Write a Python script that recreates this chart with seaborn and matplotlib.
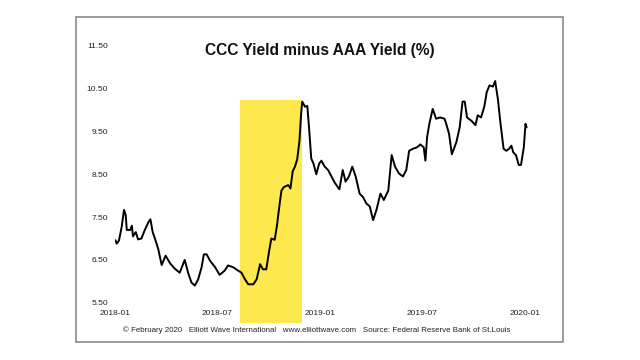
import pandas as pd
import matplotlib.pyplot as plt
import matplotlib.dates as mdates
from matplotlib.patches import Rectangle
import seaborn as sns

# CCC minus AAA yield spread (%)
dates = [
    "2018-01-02", "2018-01-04", "2018-01-08", "2018-01-13", "2018-01-17", "2018-01-20",
    "2018-01-22", "2018-01-28", "2018-01-31", "2018-02-02", "2018-02-07", "2018-02-11",
    "2018-02-17", "2018-02-23", "2018-03-01", "2018-03-05", "2018-03-09", "2018-03-13",
    "2018-03-19", "2018-03-25", "2018-04-01", "2018-04-09", "2018-04-17", "2018-04-26",
    "2018-05-05", "2018-05-11", "2018-05-17", "2018-05-23", "2018-05-29", "2018-06-04",
    "2018-06-08", "2018-06-13", "2018-06-19", "2018-06-28", "2018-07-06", "2018-07-15",
    "2018-07-21", "2018-07-30", "2018-08-08", "2018-08-14", "2018-08-20", "2018-08-26",
    "2018-09-04", "2018-09-10", "2018-09-16", "2018-09-21", "2018-09-27", "2018-10-02",
    "2018-10-06", "2018-10-12", "2018-10-16", "2018-10-20", "2018-10-24", "2018-10-28",
    "2018-11-05", "2018-11-09", "2018-11-13", "2018-11-17", "2018-11-21", "2018-11-25",
    "2018-11-28", "2018-11-30", "2018-12-05", "2018-12-09", "2018-12-12", "2018-12-16",
    "2018-12-20", "2018-12-25", "2018-12-30", "2019-01-03", "2019-01-09", "2019-01-15",
    "2019-01-21", "2019-01-27", "2019-02-04", "2019-02-10", "2019-02-15", "2019-02-21",
    "2019-02-27", "2019-03-05", "2019-03-12", "2019-03-18", "2019-03-24", "2019-03-30",
    "2019-04-05", "2019-04-11", "2019-04-18", "2019-04-24", "2019-05-02", "2019-05-08",
    "2019-05-14", "2019-05-21", "2019-05-28", "2019-06-03", "2019-06-08", "2019-06-15",
    "2019-06-22", "2019-06-28", "2019-07-04", "2019-07-07", "2019-07-10", "2019-07-14",
    "2019-07-20", "2019-07-26", "2019-08-02", "2019-08-10", "2019-08-13", "2019-08-18",
    "2019-08-23", "2019-08-31", "2019-09-06", "2019-09-11", "2019-09-15", "2019-09-19",
    "2019-09-27", "2019-10-04", "2019-10-08", "2019-10-14", "2019-10-20", "2019-10-24",
    "2019-10-29", "2019-11-04", "2019-11-08", "2019-11-13", "2019-11-17", "2019-11-23",
    "2019-11-28", "2019-12-03", "2019-12-07", "2019-12-10", "2019-12-15", "2019-12-20",
    "2019-12-24", "2019-12-29", "2020-01-01", "2020-01-03",
]
spread = [
    6.96, 6.88, 6.95, 7.28, 7.67, 7.55,
    7.20, 7.20, 7.30, 7.05, 7.15, 6.98,
    7.00, 7.20, 7.37, 7.45, 7.15, 7.00,
    6.75, 6.38, 6.60, 6.42, 6.30, 6.20,
    6.50, 6.20, 5.97, 5.90, 6.05, 6.33,
    6.63, 6.63, 6.48, 6.33, 6.15, 6.25,
    6.37, 6.33, 6.25, 6.20, 6.05, 5.93,
    5.93, 6.05, 6.40, 6.28, 6.28, 6.70,
    7.00, 6.97, 7.30, 7.73, 8.12, 8.20,
    8.25, 8.17, 8.57, 8.68, 8.85, 9.28,
    9.92, 10.20, 10.08, 10.10, 9.60, 8.87,
    8.75, 8.50, 8.75, 8.82, 8.68, 8.60,
    8.45, 8.30, 8.15, 8.60, 8.33, 8.45,
    8.68, 8.45, 8.05, 7.97, 7.82, 7.75,
    7.43, 7.67, 8.05, 7.90, 8.12, 8.95,
    8.68, 8.52, 8.45, 8.60, 9.05, 9.10,
    9.13, 9.20, 9.13, 8.82, 9.37, 9.68,
    10.03, 9.80, 9.83, 9.80, 9.68, 9.45,
    8.97, 9.25, 9.60, 10.20, 10.20, 9.83,
    9.75, 9.65, 9.88, 9.83, 10.10, 10.42,
    10.58, 10.55, 10.68, 10.25, 9.75, 9.10,
    9.05, 9.10, 9.17, 9.02, 8.95, 8.72,
    8.72, 9.13, 9.68, 9.60,
]

# highlighted period
span_start = "2018-08-11"
span_end = "2018-11-29"

y_ticks = [5.5, 6.5, 7.5, 8.5, 9.5, 10.5, 11.5]
x_ticks = ["2018-01-01", "2018-07-01", "2019-01-01", "2019-07-01", "2020-01-01"]

sns.set_style("white")
plt.rcParams['font.family'] = ['Liberation Sans', 'DejaVu Sans']

df = pd.DataFrame({"date": pd.to_datetime(dates), "spread": spread})

fig = plt.figure(figsize=(6.4, 3.6), dpi=100)
ax = fig.add_axes([115 / 640, 57.3 / 360, 415 / 640, 256.7 / 360])

ax.axvspan(pd.Timestamp(span_start), pd.Timestamp(span_end), ymin=-0.079, ymax=0.79,
           color="#FDE84E", lw=0, clip_on=False, zorder=0)
sns.lineplot(data=df, x="date", y="spread", ax=ax, color="black", lw=1.4, zorder=2)

ax.set_xlim(pd.Timestamp("2018-01-01"), pd.Timestamp("2020-01-09"))
ax.set_ylim(5.5, 11.5)
ax.set_yticks(y_ticks)
ax.set_yticklabels([f"{v:.2f}" for v in y_ticks])
ax.set_xticks(pd.to_datetime(x_ticks))
ax.xaxis.set_major_formatter(mdates.DateFormatter("%Y-%m"))
ax.tick_params(axis="both", length=0, labelsize=6, labelcolor="#222222")
ax.tick_params(axis="y", pad=5)
ax.tick_params(axis="x", pad=5)
ax.set_xlabel("")
ax.set_ylabel("")
for s in ax.spines.values():
    s.set_visible(False)
ax.patch.set_alpha(0)

fig.text(320 / 640, 1 - 51 / 360, "CCC Yield minus AAA Yield (%)", ha="center", va="center",
         fontsize=11.2, fontweight="bold", color="#111111")
fig.text(316.5 / 640, 1 - 330.5 / 360,
         "© February 2020   Elliott Wave International   www.elliottwave.com   "
         "Source: Federal Reserve Bank of St.Louis",
         ha="center", va="center", fontsize=5.65, color="#222222")

# grey frame around the chart
fig.patches.append(Rectangle((76 / 640, 1 - 342 / 360), 487 / 640, 325 / 360,
                             transform=fig.transFigure, fill=False,
                             edgecolor="#8a8a8a", lw=1.2))

fig.savefig("out.png", dpi=100)
